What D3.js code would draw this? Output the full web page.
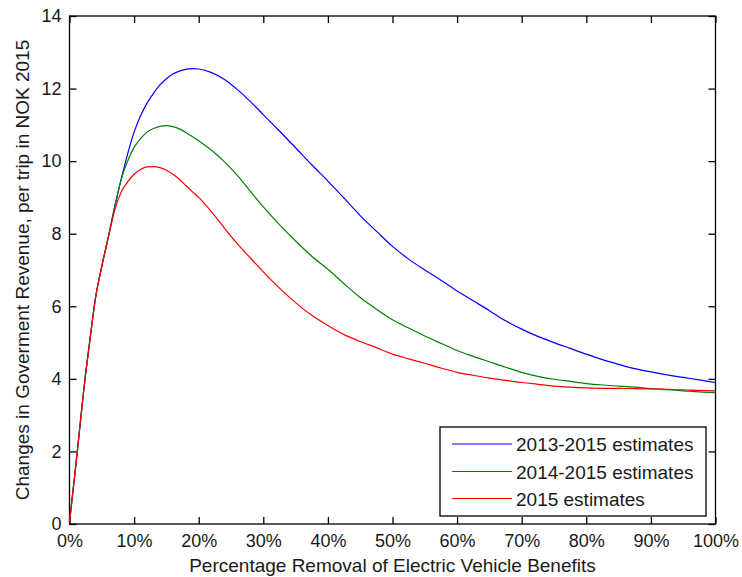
<!DOCTYPE html>
<html>
<head>
<meta charset="utf-8">
<script src="https://cdn.jsdelivr.net/npm/d3@7"></script>
<style>
  html, body { margin: 0; padding: 0; background: #fff; }
  svg { display: block; font-family: "Liberation Sans", Arial, Helvetica, sans-serif; }
</style>
</head>
<body>
<svg id="chart" width="742" height="577"></svg>
<script>
// Share of electric-vehicle benefits removed (%)
const removal = [0, 0.5, 1, 1.5, 2, 2.5, 3, 3.5, 4, 5, 6, 7, 8, 9, 10, 11, 12, 13, 14, 15, 16, 17, 18, 19, 20,
  22, 24, 26, 28, 30, 32.5, 35, 37.5, 40, 42.5, 45, 47.5, 50, 52.5, 55, 57.5, 60, 62.5, 65, 67.5, 70,
  72.5, 75, 77.5, 80, 82.5, 85, 87.5, 90, 92.5, 95, 97.5, 100];

// Change in government revenue per trip, NOK 2015
const est2013_2015 = [0.05, 0.85, 1.65, 2.5, 3.35, 4.15, 4.85, 5.55, 6.2, 7.1, 7.9, 8.75, 9.5, 10.2, 10.8, 11.25, 11.6, 11.87, 12.1, 12.27, 12.4, 12.48, 12.53, 12.55, 12.54,
  12.44, 12.25, 11.97, 11.64, 11.28, 10.83, 10.37, 9.9, 9.45, 8.98, 8.5, 8.07, 7.65, 7.3, 7.0, 6.72, 6.42, 6.15, 5.88, 5.6, 5.37,
  5.17, 5.0, 4.84, 4.68, 4.53, 4.4, 4.28, 4.19, 4.11, 4.04, 3.97, 3.9];
const est2014_2015 = [0.05, 0.85, 1.65, 2.5, 3.35, 4.15, 4.85, 5.55, 6.2, 7.1, 7.9, 8.72, 9.5, 10.0, 10.38, 10.62, 10.8, 10.9, 10.96, 10.98, 10.95, 10.89, 10.79, 10.68, 10.56,
  10.3, 9.98, 9.6, 9.17, 8.74, 8.25, 7.8, 7.38, 7.02, 6.62, 6.24, 5.92, 5.63, 5.4, 5.18, 4.98, 4.78, 4.62, 4.47, 4.32, 4.18,
  4.07, 3.99, 3.93, 3.87, 3.83, 3.8, 3.77, 3.73, 3.7, 3.67, 3.64, 3.62];
const est2015 = [0.05, 0.85, 1.65, 2.5, 3.35, 4.15, 4.85, 5.55, 6.2, 7.1, 7.9, 8.65, 9.15, 9.43, 9.64, 9.77, 9.84, 9.85, 9.82, 9.75, 9.64, 9.5, 9.33, 9.16, 9.0,
  8.6, 8.15, 7.72, 7.33, 6.95, 6.5, 6.1, 5.75, 5.47, 5.22, 5.03, 4.86, 4.68, 4.55, 4.43, 4.3, 4.18, 4.1, 4.02, 3.96, 3.9,
  3.85, 3.8, 3.77, 3.75, 3.74, 3.74, 3.73, 3.72, 3.71, 3.7, 3.68, 3.67];

const seriesNames = ["2013-2015 estimates", "2014-2015 estimates", "2015 estimates"];
const seriesColors = ["#0000ff", "#008000", "#ff0000"];
const seriesValues = [est2013_2015, est2014_2015, est2015];

const xTicks = [0, 10, 20, 30, 40, 50, 60, 70, 80, 90, 100];
const yTicks = [0, 2, 4, 6, 8, 10, 12, 14];

const xTitle = "Percentage Removal of Electric Vehicle Benefits";
const yTitle = "Changes in Goverment Revenue, per trip in NOK 2015";

const svg = d3.select("#chart");
const plotLeft = 69.5, plotRight = 715.5, plotTop = 16, plotBottom = 524;

const x = d3.scaleLinear().domain([0, 100]).range([plotLeft, plotRight]);
const y = d3.scaleLinear().domain([0, 14]).range([plotBottom, plotTop]);

const tickLen = 7;
const tickFont = 18;

// Plot frame
svg.append("rect")
  .attr("x", plotLeft).attr("y", plotTop)
  .attr("width", plotRight - plotLeft).attr("height", plotBottom - plotTop)
  .attr("fill", "none").attr("stroke", "#000").attr("stroke-width", 1.3);

// Bottom and left axes with labels, ticks pointing inward
svg.append("g").attr("transform", `translate(0,${plotBottom})`)
  .call(d3.axisBottom(x).tickValues(xTicks).tickFormat(d => d + "%")
    .tickSizeInner(-tickLen).tickSizeOuter(0).tickPadding(10));
svg.append("g").attr("transform", `translate(${plotLeft},0)`)
  .call(d3.axisLeft(y).tickValues(yTicks).tickFormat(d3.format("d"))
    .tickSizeInner(-tickLen).tickSizeOuter(0).tickPadding(8));

// Mirror ticks on the top and right edges
svg.append("g").attr("transform", `translate(0,${plotTop})`)
  .call(d3.axisTop(x).tickValues(xTicks).tickFormat("")
    .tickSizeInner(-tickLen).tickSizeOuter(0));
svg.append("g").attr("transform", `translate(${plotRight},0)`)
  .call(d3.axisRight(y).tickValues(yTicks).tickFormat("")
    .tickSizeInner(-tickLen).tickSizeOuter(0));

svg.selectAll(".domain").remove();
svg.selectAll(".tick line").attr("stroke", "#000").attr("stroke-width", 1.3);
svg.selectAll(".tick text")
  .attr("fill", "#1a1a1a")
  .style("font-size", tickFont + "px")
  .style("font-family", "\"Liberation Sans\", Arial, sans-serif");

// Series lines
const line = d3.line()
  .x((d, i) => x(removal[i]))
  .y(d => y(d))
  .curve(d3.curveMonotoneX);

const plot = svg.append("g");
seriesValues.forEach((vals, k) => {
  plot.append("path")
    .datum(vals)
    .attr("d", line)
    .attr("fill", "none")
    .attr("stroke", seriesColors[k])
    .attr("stroke-width", 1.2);
});

// Axis titles
svg.append("text")
  .attr("x", (plotLeft + plotRight) / 2).attr("y", 572)
  .attr("text-anchor", "middle")
  .attr("fill", "#1a1a1a")
  .style("font-size", "19px")
  .text(xTitle);

svg.append("text")
  .attr("transform", `translate(29,${(plotTop + plotBottom) / 2}) rotate(-90)`)
  .attr("text-anchor", "middle")
  .attr("fill", "#1a1a1a")
  .style("font-size", "19px")
  .text(yTitle);

// Legend
const legend = svg.append("g");
legend.append("rect")
  .attr("x", 440).attr("y", 427)
  .attr("width", 266).attr("height", 89)
  .attr("fill", "#fff").attr("stroke", "#000").attr("stroke-width", 1.3);

const rowY = [444, 471.5, 498.5];
seriesNames.forEach((name, k) => {
  legend.append("line")
    .attr("x1", 452).attr("x2", 512)
    .attr("y1", rowY[k]).attr("y2", rowY[k])
    .attr("stroke", seriesColors[k]).attr("stroke-width", 1.2);
  legend.append("text")
    .attr("x", 516).attr("y", rowY[k] + 7)
    .attr("fill", "#1a1a1a")
    .style("font-size", "19px")
    .text(name);
});
</script>
</body>
</html>
